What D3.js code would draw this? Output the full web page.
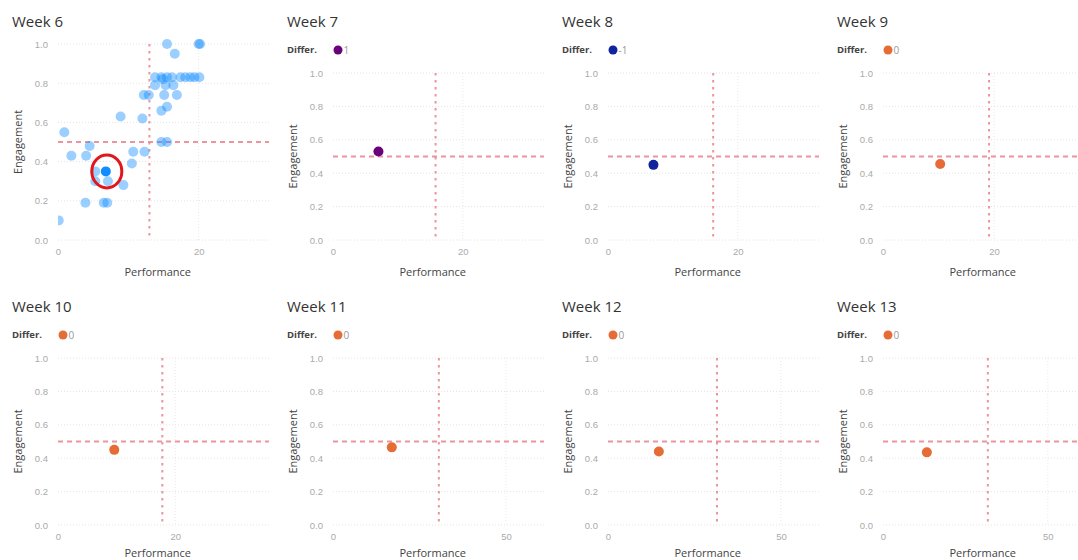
<!DOCTYPE html>
<html><head><meta charset="utf-8">
<script src="https://cdn.jsdelivr.net/npm/d3@7"></script>
<style>body{margin:0;background:#fff}svg{display:block}</style>
</head><body>
<script>
// ---------- data ----------
const weeks = ["Week 6","Week 7","Week 8","Week 9","Week 10","Week 11","Week 12","Week 13"];
const xMax = [30, 32.5, 32.5, 38, 36, 61, 61, 64];
const xTickStep = [20, 20, 20, 20, 20, 50, 50, 50];
const refPerformance = [13, 15.8, 16.2, 19.1, 17.8, 30.6, 31.5, 31.8];
const refEngagement = 0.5;
const yTicks = [0, 0.2, 0.4, 0.6, 0.8, 1.0];

// Week 6 (all players)
const week6Performance = [15.5,20,20.2,16.6,
  13.8,14.7,15.5,16.2,17.4,18.1,18.8,19.4,20.1,14.9,
  13.8,15.3,16.4,
  12.2,12.9,15.1,16.9,
  15.5,14.7,
  8.9,12.0,0.9,
  14.7,15.5,
  4.5,1.9,4.0,10.7,12.3,10.5,
  6.8,5.3,5.3,7.1,9.3,
  3.9,6.5,7.0,0.1];
const week6Engagement = [1.0,1.0,1.0,0.95,
  0.83,0.83,0.83,0.83,0.83,0.83,0.83,0.83,0.83,0.82,
  0.79,0.79,0.79,
  0.74,0.74,0.74,0.74,
  0.68,0.66,
  0.63,0.62,0.55,
  0.5,0.5,
  0.48,0.43,0.43,0.45,0.45,0.39,
  0.35,0.35,0.30,0.30,0.28,
  0.19,0.19,0.19,0.1];
const week6Selected = 34;

// Weeks 7-13 (selected player)
const playerPerformance = [7, 7, 10.3, 9.6, 17, 14.7, 13.3];
const playerEngagement = [0.53, 0.45, 0.455, 0.45, 0.465, 0.44, 0.435];
const playerDiffer = ["1", "-1", "0", "0", "0", "0", "0"];
const differColors = {"1": "#6B007B", "-1": "#12239E", "0": "#E66C37"};

// ---------- drawing ----------
const W = 1078, H = 560;
const svg = d3.select("body").append("svg").attr("width", W).attr("height", H)
  .style("font-family", "'Segoe UI','Open Sans','Noto Sans',sans-serif");
const defs = svg.append("defs");

weeks.forEach((wk, i) => {
  const col = i % 4, row = Math.floor(i / 4);
  const ox = col * 275, oy = row * 285;
  const g = svg.append("g").attr("transform", `translate(${ox},${oy})`);
  const left = 58, width = 211;
  const top = i === 0 ? 44 : 73, bottom = 240;
  const x = d3.scaleLinear().domain([0, xMax[i]]).range([left, left + width]);
  const y = d3.scaleLinear().domain([0, 1]).range([bottom, top]);

  // title
  g.append("text").attr("x", 12).attr("y", 27).attr("font-size", 15)
    .attr("fill", "#333").text(wk);

  // legend
  if (i > 0) {
    const d = playerDiffer[i - 1];
    const lg = g.append("g");
    lg.append("text").attr("x", 12).attr("y", 53).attr("font-size", 9.5)
      .attr("font-weight", "bold").attr("fill", "#444").text("Differ.");
    lg.append("circle").attr("cx", 63).attr("cy", 50).attr("r", 4.5).attr("fill", differColors[d]);
    lg.append("text").attr("x", 68.5).attr("y", 53.5).attr("font-size", 10)
      .attr("fill", "#999").text(d);
  }

  // gridlines
  const xt = d3.range(0, xMax[i] + 1e-9, xTickStep[i]);
  g.append("g").selectAll("line").data(yTicks).join("line")
    .attr("x1", left).attr("x2", left + width)
    .attr("y1", d => y(d)).attr("y2", d => y(d))
    .attr("stroke", "#e4e4e4").attr("stroke-dasharray", "1,2");
  g.append("g").selectAll("line").data(xt.filter(v => v > 0)).join("line")
    .attr("x1", d => x(d)).attr("x2", d => x(d))
    .attr("y1", top).attr("y2", bottom)
    .attr("stroke", "#e8e8e8").attr("stroke-dasharray", "1,2");

  // axes
  const ya = g.append("g").attr("transform", `translate(${left},0)`)
    .call(d3.axisLeft(y).tickValues(yTicks).tickFormat(d3.format(".1f")).tickSize(0).tickPadding(10));
  ya.select(".domain").remove();
  ya.selectAll("text").attr("fill", "#aaa").attr("font-size", 9.5).style("font-family", "inherit");
  const xa = g.append("g").attr("transform", `translate(0,${bottom})`)
    .call(d3.axisBottom(x).tickValues(xt).tickFormat(d3.format("d")).tickSize(0).tickPadding(8));
  xa.select(".domain").remove();
  xa.selectAll("text").attr("fill", "#aaa").attr("font-size", 9.5).style("font-family", "inherit");

  // axis titles
  g.append("text").attr("transform", `translate(22,${(top + bottom) / 2}) rotate(-90)`)
    .attr("text-anchor", "middle").attr("font-size", 11).attr("fill", "#444").text("Engagement");
  g.append("text").attr("x", left + width * 0.52 - 10).attr("y", row === 0 ? 276 : 272)
    .attr("text-anchor", "middle").attr("font-size", 11).attr("fill", "#444").text("Performance");

  // reference lines
  g.append("line").attr("x1", left).attr("x2", left + width)
    .attr("y1", y(refEngagement)).attr("y2", y(refEngagement))
    .attr("stroke", "#e8838f").attr("stroke-width", 2).attr("stroke-dasharray", "5,4").attr("opacity", 0.85);
  g.append("line").attr("x1", x(refPerformance[i])).attr("x2", x(refPerformance[i]))
    .attr("y1", top).attr("y2", bottom)
    .attr("stroke", "#e8838f").attr("stroke-width", 2).attr("stroke-dasharray", "2.5,4.5").attr("opacity", 0.85);

  // points
  if (i === 0) {
    defs.append("clipPath").attr("id", "clip0").append("rect")
      .attr("x", left).attr("y", top - 10).attr("width", width).attr("height", bottom - top + 20);
    const pts = week6Performance.map((p, k) => ({p, e: week6Engagement[k], sel: k === week6Selected}));
    g.append("g").attr("clip-path", "url(#clip0)").selectAll("circle").data(pts).join("circle")
      .attr("cx", d => x(d.p)).attr("cy", d => y(d.e)).attr("r", 5)
      .attr("fill", "#118DFF").attr("fill-opacity", d => d.sel ? 1 : 0.42);
    const s = pts[week6Selected];
    g.append("ellipse").attr("cx", x(s.p) + 1).attr("cy", y(s.e)).attr("rx", 15).attr("ry", 16.5)
      .attr("fill", "none").attr("stroke", "#e2161b").attr("stroke-width", 3);
  } else {
    const k = i - 1;
    g.append("circle").attr("cx", x(playerPerformance[k])).attr("cy", y(playerEngagement[k]))
      .attr("r", 5).attr("fill", differColors[playerDiffer[k]]);
  }
});
</script>
</body></html>
